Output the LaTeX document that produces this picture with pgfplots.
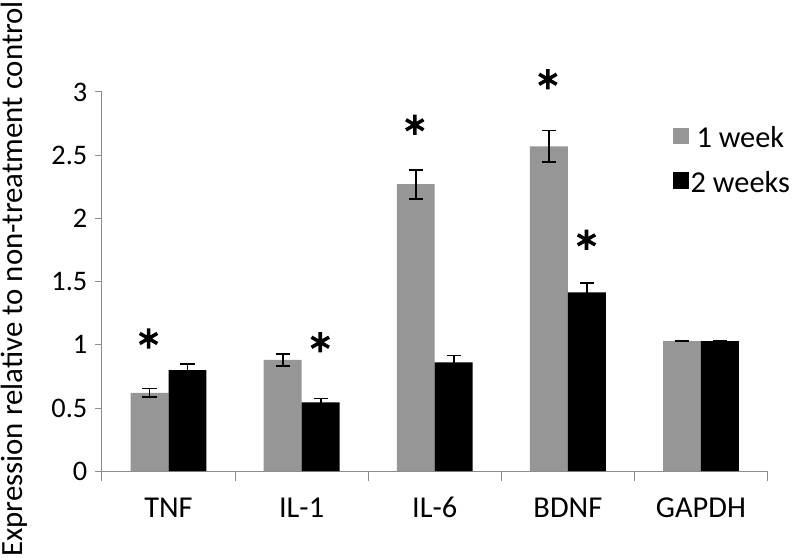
\documentclass[border=0pt]{standalone}
\usepackage{pgfplots}
\pgfplotsset{compat=1.18}
\usepackage{fontspec}
\setmainfont{Carlito}
\definecolor{barg}{RGB}{150,150,150}
\definecolor{axg}{RGB}{140,140,140}
\begin{document}
\begin{tikzpicture}
\begin{axis}[
  scale only axis,
  width=658pt, height=375pt,
  xmin=-0.5, xmax=4.5,
  ymin=0, ymax=3,
  axis x line=bottom, axis y line=left,
  axis line style={-, axg, line width=1pt},
  xtick={0,1,2,3,4},
  xticklabels={TNF, IL-1, IL-6, BDNF, GAPDH},
  major x tick style={draw=none},
  minor xtick={-0.5,0.5,1.5,2.5,3.5,4.5},
  minor x tick style={axg, line width=1pt},
  minor tick length=10pt,
  xticklabel style={anchor=base, yshift=-39pt, font=\fontsize{30}{34}\selectfont},
  ytick={0,0.5,1,1.5,2,2.5,3},
  y tick style={axg, line width=1pt},
  major tick length=7pt,
  tick align=outside,
  /pgf/number format/assume math mode=true,
  yticklabel style={/pgf/number format/fixed, xshift=-4pt, font=\fontsize{28}{32}\selectfont},
  ylabel={Expression relative to non-treatment control},
  ylabel style={font=\fontsize{30.5}{34}\selectfont, at={(axis description cs:-0.1535,0.507)}, anchor=north, inner sep=1pt},
  clip=false,
  legend style={at={(rel axis cs:0.857,0.915)}, anchor=north west, draw=none, fill=none,
    font=\fontsize{30}{34}\selectfont, row sep=18pt, inner sep=0pt,
    nodes={inner sep=2pt}},
  legend image code/.code={\fill[#1] (2pt,-6pt) rectangle (18pt,10pt);},
]
\addplot[ybar, bar width=37.5pt, bar shift=0pt, fill=barg, draw=none,
  error bars/.cd, y dir=both, y explicit,
  error bar style={black, line width=1.8pt},
  error mark options={rotate=90, mark size=7pt, black, line width=1.8pt}]
  coordinates {(-0.1425,0.62) +- (0,0.035) (0.8575,0.88) +- (0,0.045) (1.8575,2.27) +- (0,0.115) (2.8575,2.57) +- (0,0.125) (3.8575,1.03) +- (0,0)};
\addlegendentry{1 week}
\addplot[ybar, bar width=37.5pt, bar shift=0pt, fill=black, draw=none,
  error bars/.cd, y dir=both, y explicit,
  error bar style={black, line width=1.8pt},
  error mark options={rotate=90, mark size=7pt, black, line width=1.8pt}]
  coordinates {(0.1425,0.80) +- (0,0.045) (1.1425,0.545) +- (0,0.03) (2.1425,0.86) +- (0,0.055) (3.1425,1.415) +- (0,0.075) (4.1425,1.03) +- (0,0)};
\addlegendentry{2 weeks}
\addplot[only marks, mark=asterisk, mark size=10pt, line width=3.5pt, black, forget plot]
  coordinates {(-0.15,1.05) (1.14,1.02) (1.85,2.74) (2.85,3.10) (3.14,1.83)};
\end{axis}
\end{tikzpicture}
\end{document}
